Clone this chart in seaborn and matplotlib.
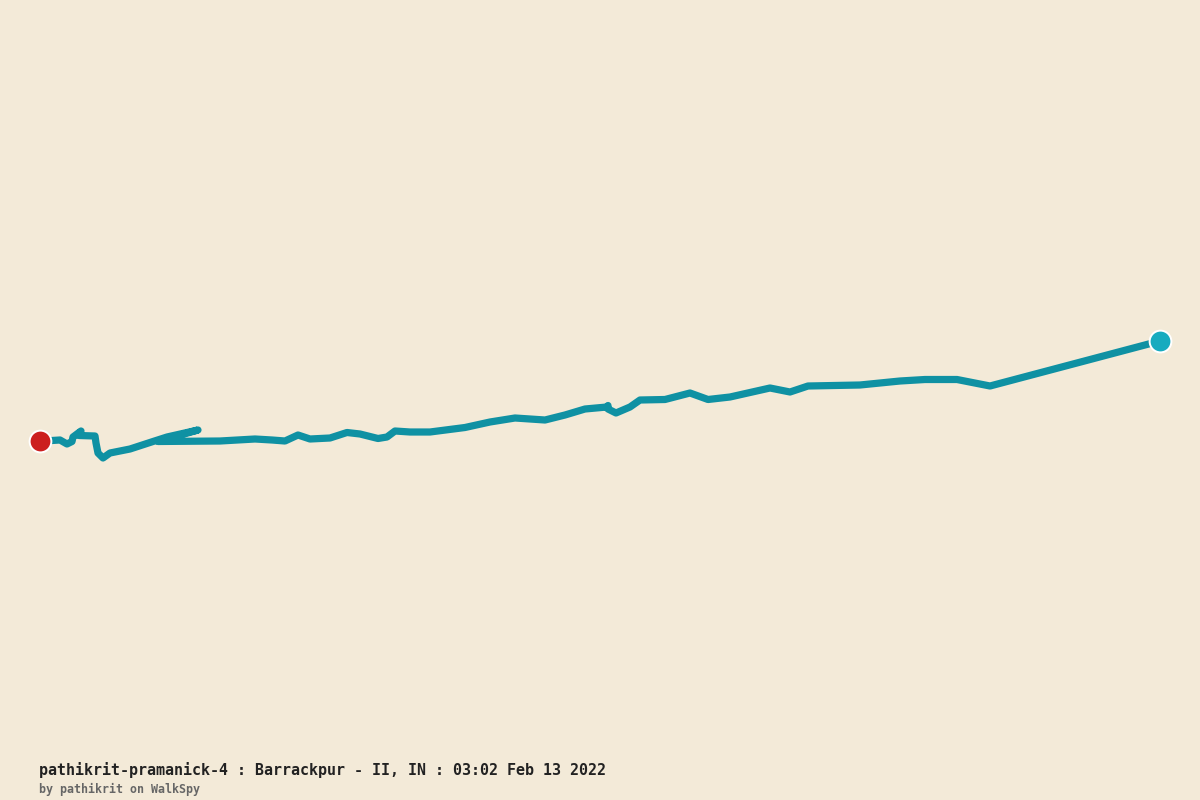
import pandas as pd
import matplotlib
matplotlib.use('Agg')
import matplotlib.pyplot as plt
import seaborn as sns

# Walk track (x, y run along the canvas)
track_x = [40, 52, 60, 67, 72, 73, 81, 79, 95, 96, 98, 103, 110, 130, 153, 167, 198, 158, 220,
           255, 272, 285, 298, 310, 330, 347, 360, 378, 387, 395, 410, 430, 465, 490, 515, 545,
           565, 585, 607, 608, 608, 616, 630, 640, 665, 690, 708, 730, 770, 790, 808, 860,
           900, 925, 957, 990, 1160]
track_y = [441, 440.5, 440, 444, 441.5, 437, 431, 435.5, 436, 443, 453, 458, 453, 449, 441.5, 437, 430, 441.5, 441,
           439, 440, 441, 435, 439, 438, 432.5, 434, 438.5, 437, 431, 432, 432, 427.5, 422, 418, 420,
           415, 409, 407, 405.5, 409, 413, 407, 400, 399.5, 393, 399.5, 397, 388, 392, 386, 385,
           381, 379.5, 379.5, 386, 341]

title = 'pathikrit-pramanick-4 : Barrackpur - II, IN : 03:02 Feb 13 2022'
byline = 'by pathikrit on WalkSpy'

background = '#F3EAD8'
track_color = '#0F91A3'

df = pd.DataFrame({'x': track_x, 'y': track_y})

fig = plt.figure(figsize=(12, 8), dpi=100, facecolor=background)
ax = fig.add_axes([0, 0, 1, 1])
ax.set_facecolor(background)

sns.lineplot(data=df, x='x', y='y', sort=False, estimator=None, ax=ax,
             color=track_color, linewidth=5.2, solid_joinstyle='round', solid_capstyle='butt')

# Start and end markers
sns.scatterplot(data=df.iloc[[-1]], x='x', y='y', ax=ax, color='#17ABBF', s=245,
                edgecolor='white', linewidth=1.4, zorder=5)
sns.scatterplot(data=df.iloc[[0]], x='x', y='y', ax=ax, color='#CC1F1F', s=245,
                edgecolor='white', linewidth=1.4, zorder=5)

ax.set_xlim(0, 1200)
ax.set_ylim(800, 0)
ax.axis('off')

ax.text(39, 770, title, fontsize=10.8, family='DejaVu Sans Mono', fontweight='bold', color='#222222',
        va='center', ha='left')
ax.text(39, 789, byline, fontsize=8.4, family='DejaVu Sans Mono', fontweight='bold', color='#666666',
        va='center', ha='left')

plt.savefig('out.png', dpi=100, facecolor=background)
